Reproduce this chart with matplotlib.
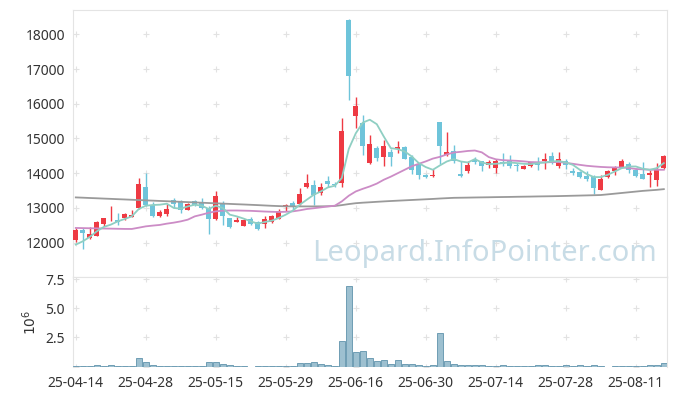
import numpy as np
import matplotlib
matplotlib.use('Agg')
import matplotlib.pyplot as plt

plt.rcParams['font.family'] = ['Noto Sans', 'DejaVu Sans']

# tick labels (every 10 trading days)
tick_dates = ['25-04-14', '25-04-28', '25-05-15', '25-05-29', '25-06-16',
              '25-06-30', '25-07-14', '25-07-28', '25-08-11']

opens = [12066, 12353, 12135, 12181, 12537, 12727, 12661, 12698, 12747, 13006,
         13601, 13092, 12776, 12833, 13236, 13170, 12948, 13187, 13158, 12998,
         12690, 13121, 12710, 12583, 12468, 12681, 12603, 12537, 12594, 12690,
         13015, 13141, 13112, 13589, 13666, 13428, 13782, 13676, 13716, 18409,
         15659, 15457, 14299, 14721, 14480, 14596, 14702, 14768, 14480, 14260,
         13935, 13906, 15486, 14529, 14653, 13974, 14049, 14385, 14356, 14241,
         14147, 14308, 14356, 14241, 14127, 14193, 14308, 14356, 14500, 14193,
         14365, 14049, 14020, 13906, 13877, 13503, 13877, 14049, 14176, 14270,
         14098, 13983, 13945, 13811, 14155]
closes = [12374, 12279, 12259, 12583, 12710, 12747, 12603, 12825, 12805, 13696,
          13072, 12776, 12871, 12977, 13112, 12948, 13121, 13072, 12998, 12690,
          13351, 12756, 12451, 12641, 12641, 12546, 12400, 12690, 12756, 12900,
          13092, 13015, 13408, 13716, 13380, 13601, 13696, 13666, 15219, 16799,
          15946, 14788, 14845, 14434, 14788, 14480, 14768, 14414, 14078, 13954,
          13877, 13954, 14788, 14596, 14337, 13906, 14241, 14328, 14213, 14308,
          14365, 14260, 14193, 14193, 14213, 14308, 14241, 14405, 14290, 14405,
          14222, 13992, 13877, 13839, 13572, 13839, 14069, 14164, 14337, 14078,
          13906, 13839, 14003, 14118, 14500]
highs = [12411, 12422, 12451, 12612, 12720, 13063, 12854, 12854, 12948, 13859,
         14003, 13158, 12948, 13121, 13273, 13236, 13150, 13240, 13283, 13043,
         13494, 13187, 12720, 12739, 12680, 12740, 12620, 12756, 12790, 12968,
         13112, 13187, 13572, 13974, 13811, 13716, 13906, 13740, 15601, 18438,
         16204, 15679, 15104, 14797, 14960, 14693, 14931, 14790, 14510, 14290,
         13974, 14118, 15486, 15181, 14816, 14337, 14337, 14480, 14356, 14385,
         14400, 14577, 14530, 14290, 14240, 14330, 14480, 14577, 14624, 14624,
         14414, 14160, 14049, 14049, 13950, 13954, 14098, 14200, 14405, 14320,
         14150, 14308, 14098, 14290, 14529]
lows = [12009, 11819, 12106, 12181, 12468, 12612, 12509, 12661, 12740, 12968,
        13060, 12739, 12739, 12756, 12998, 12854, 12930, 13060, 12968, 12250,
        12641, 12517, 12411, 12583, 12468, 12500, 12350, 12422, 12570, 12690,
        12900, 12900, 13092, 13572, 13092, 13380, 13589, 13610, 13589, 16110,
        15314, 14529, 14270, 14365, 14193, 14193, 14577, 14400, 13974, 13830,
        13850, 13900, 14260, 14500, 14300, 13900, 14003, 14250, 14049, 14160,
        14003, 14200, 14160, 14049, 14127, 14170, 14100, 14118, 14250, 14150,
        14118, 13950, 13860, 13780, 13400, 13503, 13860, 13960, 14170, 14003,
        13880, 13820, 13589, 13618, 14120]

# volume in millions of shares
volume = [0.05, 0.05, 0.05, 0.15, 0.05, 0.15, 0.05, 0.05, 0.05, 0.72,
          0.40, 0.15, 0.05, 0.05, 0.05, 0.05, 0.05, 0.05, 0.05, 0.40,
          0.40, 0.20, 0.12, 0.05, 0.05, 0.0, 0.05, 0.05, 0.05, 0.05,
          0.05, 0.05, 0.30, 0.30, 0.40, 0.20, 0.12, 0.05, 2.20, 6.91,
          1.25, 1.35, 0.72, 0.46, 0.55, 0.20, 0.55, 0.20, 0.20, 0.12,
          0.05, 0.12, 2.90, 0.46, 0.20, 0.12, 0.12, 0.12, 0.12, 0.05,
          0.05, 0.12, 0.05, 0.05, 0.05, 0.05, 0.12, 0.12, 0.05, 0.05,
          0.12, 0.05, 0.12, 0.05, 0.12, 0.05, 0.0, 0.05, 0.05, 0.05,
          0.05, 0.05, 0.12, 0.12, 0.30]

# moving averages as drawn on the chart
ma5 = [11943, 12037, 12164, 12325, 12451, 12517, 12612, 12681, 12756, 12968,
       13063, 13083, 13092, 13121, 12998, 12977, 13043, 13092, 13063, 12968,
       13063, 12998, 12805, 12756, 12690, 12612, 12546, 12594, 12632, 12710,
       12805, 12920, 13092, 13236, 13380, 13474, 13589, 13638, 13859, 14700,
       15150, 15457, 15540, 15411, 15055, 14721, 14693, 14624, 14480, 14290,
       14175, 14098, 14222, 14337, 14405, 14337, 14308, 14405, 14308, 14260,
       14270, 14290, 14308, 14290, 14270, 14260, 14290, 14308, 14337, 14350,
       14308, 14241, 14098, 13974, 13888, 13888, 13954, 14049, 14146, 14193,
       14193, 14127, 14098, 14146, 14290]
ma20 = [12422, 12418, 12414, 12410, 12406, 12402, 12398, 12394, 12393, 12430,
        12468, 12490, 12509, 12546, 12575, 12612, 12661, 12756, 12805, 12860,
        12900, 12920, 12925, 12925, 12920, 12915, 12905, 12895, 12888, 12882,
        12888, 12900, 12930, 12968, 12990, 13015, 13040, 13063, 13187, 13351,
        13474, 13550, 13618, 13700, 13811, 13900, 14000, 14100, 14200, 14270,
        14340, 14420, 14470, 14540, 14596, 14615, 14640, 14653, 14600, 14463,
        14400, 14375, 14365, 14356, 14340, 14320, 14315, 14310, 14320, 14320,
        14300, 14270, 14240, 14213, 14195, 14180, 14170, 14165, 14165, 14150,
        14120, 14110, 14100, 14098, 14098]
ma120 = [13302, 13294, 13285, 13277, 13268, 13260, 13251, 13243, 13234, 13226,
         13217, 13209, 13200, 13192, 13183, 13175, 13166, 13158, 13149, 13140,
         13132, 13123, 13115, 13106, 13098, 13089, 13080, 13070, 13060, 13052,
         13045, 13043, 13043, 13043, 13043, 13045, 13048, 13055, 13080, 13110,
         13135, 13150, 13162, 13175, 13187, 13198, 13208, 13218, 13228, 13238,
         13248, 13258, 13270, 13280, 13290, 13293, 13296, 13300, 13303, 13306,
         13310, 13313, 13316, 13320, 13323, 13326, 13330, 13333, 13336, 13340,
         13345, 13350, 13355, 13360, 13365, 13371, 13390, 13410, 13430, 13450,
         13470, 13490, 13505, 13520, 13540]

RED = '#ee3a43'
BLUE = '#6ec4da'
GRID = '#e2e2e2'
SPINE = '#e4e4e4'
TXT = '#333333'

fig = plt.figure(figsize=(6.77, 3.96), dpi=100)
ax = fig.add_axes([0.1083, 0.2997, 0.8769, 0.6750])
axv = fig.add_axes([0.1083, 0.074, 0.8769, 0.2257], sharex=ax)

x = np.arange(len(opens))
o = np.array(opens)
c = np.array(closes)
up = c >= o
cols = np.where(up, RED, BLUE)

# candles
ax.vlines(x, lows, highs, colors=cols, lw=1, zorder=3)
ax.bar(x, np.maximum(np.abs(c - o), 12), bottom=np.minimum(o, c), width=0.72,
       color=cols, zorder=3)

# moving averages
ax.plot(x, ma120, color='#9a9a9a', lw=1.3, zorder=4)
ax.plot(x, ma20, color='#cc8cc6', lw=1.3, zorder=4)
ax.plot(x, ma5, color='#8fcfc3', lw=1.3, zorder=4)

ax.text(0.983, 0.06, 'Leopard.InfoPointer.com', transform=ax.transAxes,
        ha='right', va='baseline', fontsize=21, color='#c8dce6', zorder=1)

# volume
axv.bar(x, volume, width=0.9, color='#9dc0d0', edgecolor='#6f9db4', lw=0.7, zorder=3)

xt = list(range(0, 85, 10))
ax.set_xlim(-0.35, 84.45)
ax.set_ylim(11000, 18700)
ax.set_yticks(range(12000, 18001, 1000))
axv.set_ylim(0, 7.65)
axv.set_yticks([2.5, 5.0, 7.5])
axv.set_yticklabels(['2.5', '5.0', '7.5'])
axv.set_xticks(xt)
axv.set_xticklabels(tick_dates)
axv.set_ylabel(r'$10^6$', color=TXT, fontsize=10, labelpad=4)

# "+" shaped grid marks
gx, gy = np.meshgrid(xt, ax.get_yticks())
ax.plot(gx.ravel(), gy.ravel(), '+', color=GRID, ms=4, mew=0.8, zorder=0)
gx, gy = np.meshgrid(xt, [0, 2.5, 5.0, 7.5])
axv.plot(gx.ravel(), gy.ravel(), '+', color=GRID, ms=4, mew=0.8, zorder=0)

for a in (ax, axv):
    a.tick_params(length=0, labelsize=10, colors=TXT)
    for s in a.spines.values():
        s.set_color(SPINE)
ax.tick_params(axis='x', labelbottom=False)
ax.tick_params(axis='y', pad=6)
axv.tick_params(axis='y', pad=6)
axv.tick_params(axis='x', pad=7)
axv.spines['bottom'].set_visible(False)

fig.savefig('out.png', dpi=100)
